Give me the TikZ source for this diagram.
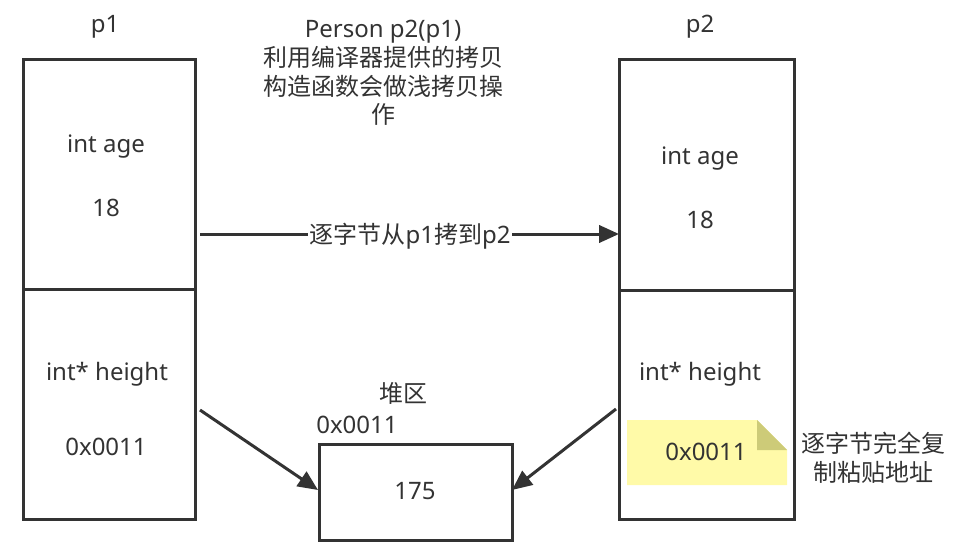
\documentclass[tikz,border=0pt]{standalone}
\usepackage{fontspec}
\setmainfont{Noto Sans}
\newfontfamily\cjk{Noto Sans CJK SC}
\usetikzlibrary{arrows.meta}
\definecolor{ink}{HTML}{333333}
\definecolor{notefill}{HTML}{FFFAA8}
\definecolor{notefold}{HTML}{CDCB78}
\tikzset{
  box/.style={draw=ink, line width=2.25pt, inner sep=0pt, anchor=north west},
  lbl/.style={text=ink, font=\fontsize{18}{21.4}\selectfont, inner sep=0pt, align=center},
  cjklbl/.style={lbl, font=\cjk\fontsize{18}{21.4}\selectfont},
  conn/.style={draw=ink, line width=2.25pt, -{Triangle[length=15pt,width=13pt]}},
}
\begin{document}
\begin{tikzpicture}[x=0.75pt,y=-0.75pt]
\useasboundingbox (0,0) rectangle (955,552);
% left object
\node[box, minimum width=172*0.75pt, minimum height=230*0.75pt] (ltop) at (22,58) {};
\node[box, minimum width=172*0.75pt, minimum height=230*0.75pt] (lbot) at (22,288) {};
% right object
\node[box, minimum width=175*0.75pt, minimum height=231*0.75pt] (rtop) at (618,58) {};
\node[box, minimum width=175*0.75pt, minimum height=229*0.75pt] (rbot) at (618,289) {};
% heap box
\node[box, minimum width=193*0.75pt, minimum height=96*0.75pt] (heap) at (318,443) {};

% texts
\node[lbl] (p1) at (105,27) {p1};
\node[lbl] (p2) at (700,27) {p2};
\node[lbl] (lage) at (106,147) {int age};
\node[lbl] (lageval) at (106,208) {18};
\node[lbl] (lh) at (107,374) {int* height};
\node[lbl] (lhval) at (106,447) {0x0011};
\node[lbl] (rage) at (700,159) {int age};
\node[lbl] (rageval) at (700,220) {18};
\node[lbl] (rh) at (700,374) {int* height};
\node[lbl] (title) at (383,73) {Person p2(p1)\\{\cjk 利用编译器提供的拷贝}\\{\cjk 构造函数会做浅拷贝操}\\{\cjk 作}};
\node[cjklbl] (heaplbl) at (403,393) {堆区};
\node[lbl, anchor=west] (heapaddr) at (316,425) {0x0011};
\node[lbl] (heapval) at (415,491) {175};

% note
\fill[notefill] (627,420) -- (757,420) -- (787,450) -- (787,485) -- (627,485) -- cycle;
\fill[notefold] (757,420) -- (757,450) -- (787,450) -- cycle;
\node[lbl] (rhval) at (706,452) {0x0011};
\node[cjklbl] (notetxt) at (873,458) {逐字节完全复\\制粘贴地址};

% connectors
\coordinate (a1s) at (200,234);
\coordinate (a1e) at (619,234);
\draw[conn] (a1s) -- (a1e);
\node[lbl, fill=white, inner xsep=1pt, inner ysep=2pt] (copylbl) at (410,236) {{\cjk 逐字节从}p1{\cjk 拷到}p2};
\coordinate (a2s) at (200,410);
\coordinate (a2e) at (318,490);
\draw[conn] (a2s) -- (a2e);
\coordinate (a3s) at (616,409);
\coordinate (a3e) at (512,490);
\draw[conn] (a3s) -- (a3e);
\end{tikzpicture}
\end{document}
